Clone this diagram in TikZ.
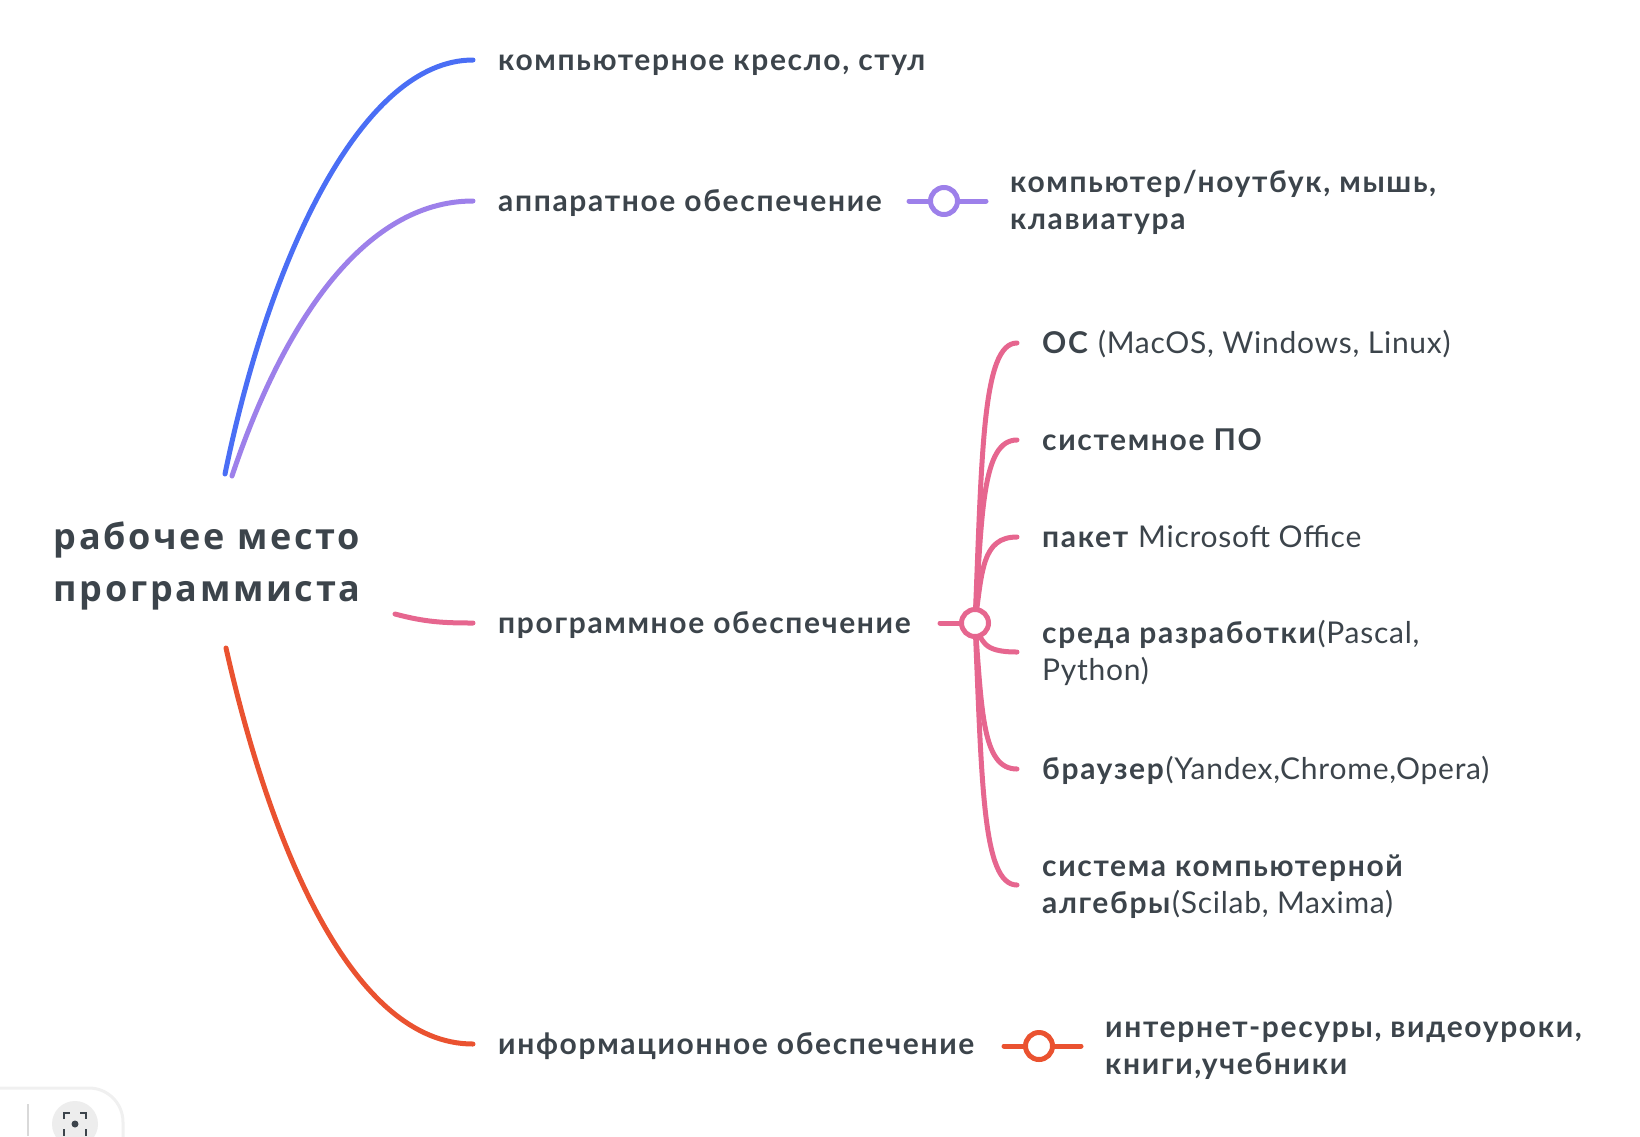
\documentclass[tikz,border=0pt]{standalone}
\usepackage{fontspec}
\setmainfont{Lato}[LetterSpace=2.5, BoldFeatures={LetterSpace=5.5}]
\newfontfamily\titlefont{Open Sans}[LetterSpace=7.5]
\definecolor{ink}{HTML}{3C444B}
\definecolor{cblue}{HTML}{4A6EF5}
\definecolor{cpurple}{HTML}{9D80EA}
\definecolor{cpink}{HTML}{E6668F}
\definecolor{cred}{HTML}{EA5230}
\newcommand{\vs}{\rule[-8pt]{0pt}{36pt}}
\newcommand{\ts}{\rule[-11pt]{0pt}{50pt}}
\tikzset{
  rootnode/.style={font=\titlefont\bfseries\fontsize{36}{52}\selectfont, text=ink, align=center, inner sep=0pt},
  lvl/.style={font=\bfseries\fontsize{30}{37}\selectfont, text=ink, anchor=west, inner sep=0pt, align=left},
  leaf/.style={font=\fontsize{30}{37}\selectfont, text=ink, anchor=west, inner sep=0pt, align=left},
  conn/.style={line width=5pt, line cap=round},
  hubc/.style={circle, line width=5pt, fill=white, minimum size=27pt, inner sep=0pt},
}
\begin{document}
\begin{tikzpicture}[x=1pt,y=-1pt]
\useasboundingbox (0,0) rectangle (1640,1136);

% root
\node[rootnode] (root) at (207,561) {\ts рабочее место\\\ts программиста};

% level 1
\node[lvl] (n1) at (498,60) {\vs компьютерное кресло, стул};
\node[lvl] (n2) at (498,201) {\vs аппаратное обеспечение};
\node[lvl] (n3) at (498,623) {\vs программное обеспечение};
\node[lvl] (n4) at (498,1044) {\vs информационное обеспечение};

% leaves
\node[lvl] (c2) at (1010,201) {\vs компьютер/ноутбук, мышь,\\\vs клавиатура};
\node[leaf] (p1) at (1042,343) {\vs\textbf{ОС} (MacOS, Windows, Linux)};
\node[leaf] (p2) at (1042,440) {\vs\textbf{системное ПО}};
\node[leaf] (p3) at (1042,537) {\vs\textbf{пакет} Microsoft Office};
\node[leaf] (p4) at (1042,652) {\vs\textbf{среда разработки}(Pascal,\\\vs Python)};
\node[leaf] (p5) at (1042,769) {\vs\textbf{браузер}(Yandex,Chrome,Opera)};
\node[leaf] (p6) at (1042,885) {\vs\textbf{система компьютерной}\\\vs\textbf{алгебры}(Scilab, Maxima)};
\node[lvl] (c4) at (1105,1046) {\vs интернет-ресуры, видеоуроки,\\\vs книги,учебники};

% connector start points near root
\coordinate (rb) at (225,474);
\coordinate (rp) at (232,476);
\coordinate (rk) at (395,614);
\coordinate (rr) at (226,648);

% hubs
\coordinate (h2) at (944,201);
\coordinate (hp) at (975,623);
\coordinate (h4) at (1039,1046);

% main curves
\draw[conn,cblue] (rb) .. controls +(45,-220) and +(-110,0) .. ([xshift=-25pt]n1.west);
\draw[conn,cpurple] (rp) .. controls +(50,-150) and +(-110,0) .. ([xshift=-25pt]n2.west);
\draw[conn,cpink] (rk) .. controls +(30,8) and +(-30,0) .. ([xshift=-25pt]n3.west);
\draw[conn,cred] (rr) .. controls +(45,200) and +(-120,0) .. ([xshift=-25pt]n4.west);

% purple hub
\draw[conn,cpurple] ([xshift=-35pt]h2) -- (h2) -- ([xshift=-24pt]c2.west);
% red hub
\draw[conn,cred] ([xshift=-35pt]h4) -- (h4) -- ([xshift=-24pt]c4.west);
% pink hub
\draw[conn,cpink] ([xshift=-35pt]hp) -- (hp);
\draw[conn,cpink] (hp) .. controls +(7,-168) and +(-35,0) .. ([xshift=-25pt]p1.west);
\draw[conn,cpink] (hp) .. controls +(7,-110) and +(-35,0) .. ([xshift=-25pt]p2.west);
\draw[conn,cpink] (hp) .. controls +(7,-52) and +(-35,0) .. ([xshift=-25pt]p3.west);
\draw[conn,cpink] (hp) .. controls +(7,18) and +(-35,0) .. ([xshift=-25pt]p4.west);
\draw[conn,cpink] (hp) .. controls +(7,88) and +(-35,0) .. ([xshift=-25pt]p5.west);
\draw[conn,cpink] (hp) .. controls +(7,157) and +(-35,0) .. ([xshift=-25pt]p6.west);

\node[hubc,draw=cpurple] (h2c) at (h2) {};
\node[hubc,draw=cpink] (hpc) at (hp) {};
\node[hubc,draw=cred] (h4c) at (h4) {};

% toolbar fragment (bottom left)
\draw[draw=black!6, line width=3pt, fill=white, rounded corners=34pt] (-60,1088) rectangle (123,1200);
\draw[black!15, line width=1.5pt] (28,1104) -- (28,1136);
\fill[black!7] (75,1124) circle (23);
\begin{scope}[ink, line width=2.2pt]
\draw (64,1119) -- (64,1113) -- (70,1113);
\draw (80,1113) -- (86,1113) -- (86,1119);
\draw (64,1129) -- (64,1136);
\draw (86,1129) -- (86,1136);
\fill (75,1124) circle (3.5);
\end{scope}
\end{tikzpicture}
\end{document}
